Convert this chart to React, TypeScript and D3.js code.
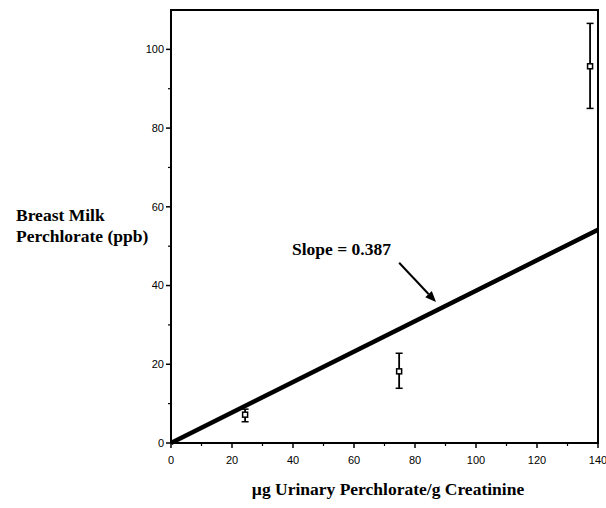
import React from "react";
import * as d3 from "d3";

// Urinary perchlorate (µg/g creatinine) vs. breast milk perchlorate (ppb)
const urinary = [24.3, 74.8, 137.4];
const milk = [7.2, 18.2, 95.7];
const milkLow = [5.4, 13.9, 85.0];
const milkHigh = [8.6, 22.8, 106.6];

const slope = 0.387;
const xTicks = [0, 20, 40, 60, 80, 100, 120, 140];
const yTicks = [0, 20, 40, 60, 80, 100];
const xMinor = [10, 30, 50, 70, 90, 110, 130];
const yMinor = [10, 30, 50, 70, 90];

const W = 606;
const H = 508;
const left = 171;
const right = 598;
const top = 10;
const bottom = 443;

export default function App() {
  const x = d3.scaleLinear().domain([0, 140]).range([left, right]);
  const y = d3.scaleLinear().domain([0, 110]).range([bottom, top]);

  const fit = d3
    .line<number>()
    .x((d) => x(d))
    .y((d) => y(d * slope));

  const serif = "'Liberation Serif', 'Times New Roman', serif";
  const sans = "'Liberation Sans', Arial, sans-serif";

  // arrow from the annotation to the fitted line
  const ax0 = x(74.8), ay0 = y(45.8);
  const ax1 = x(86.9), ay1 = y(35.8);
  const ang = Math.atan2(ay1 - ay0, ax1 - ax0);
  const hl = 11, hw = 4.5;
  const bx = ax1 - hl * Math.cos(ang), by = ay1 - hl * Math.sin(ang);
  const head = [
    [ax1, ay1],
    [bx + hw * Math.sin(ang), by - hw * Math.cos(ang)],
    [bx - hw * Math.sin(ang), by + hw * Math.cos(ang)],
  ];

  return (
    <svg
      width={W}
      height={H}
      style={{ position: "absolute", left: 0, top: 0, background: "#fff" }}
    >
      {/* frame */}
      <path
        d={`M${left},${bottom}V${top}H${right}V${bottom}H${left}`}
        fill="none"
        stroke="#000"
        strokeWidth={2}
      />

      {/* y axis ticks */}
      {yTicks.map((t) => (
        <g key={"y" + t}>
          <line x1={left - 5} x2={left} y1={y(t)} y2={y(t)} stroke="#000" strokeWidth={1.5} />
          <text
            x={left - 7}
            y={y(t)}
            dy="0.35em"
            textAnchor="end"
            fontFamily={sans}
            fontSize={11}
          >
            {t}
          </text>
        </g>
      ))}
      {yMinor.map((t) => (
        <line key={"ym" + t} x1={left - 3} x2={left} y1={y(t)} y2={y(t)} stroke="#000" strokeWidth={1.2} />
      ))}

      {/* x axis ticks */}
      {xTicks.map((t) => (
        <g key={"x" + t}>
          <line x1={x(t)} x2={x(t)} y1={bottom} y2={bottom + 5} stroke="#000" strokeWidth={1.5} />
          <text
            x={x(t)}
            y={bottom + 21}
            textAnchor="middle"
            fontFamily={sans}
            fontSize={11}
          >
            {t}
          </text>
        </g>
      ))}
      {xMinor.map((t) => (
        <line key={"xm" + t} x1={x(t)} x2={x(t)} y1={bottom} y2={bottom + 3} stroke="#000" strokeWidth={1.2} />
      ))}

      {/* regression line */}
      <path d={fit([0, 140]) || ""} fill="none" stroke="#000" strokeWidth={4.5} />

      {/* means with error bars */}
      {urinary.map((u, i) => (
        <g key={"p" + i}>
          <line x1={x(u)} x2={x(u)} y1={y(milkLow[i])} y2={y(milkHigh[i])} stroke="#000" strokeWidth={1.8} />
          <line x1={x(u) - 3.5} x2={x(u) + 3.5} y1={y(milkLow[i])} y2={y(milkLow[i])} stroke="#000" strokeWidth={1.5} />
          <line x1={x(u) - 3.5} x2={x(u) + 3.5} y1={y(milkHigh[i])} y2={y(milkHigh[i])} stroke="#000" strokeWidth={1.5} />
          <rect
            x={x(u) - 2.5}
            y={y(milk[i]) - 2.5}
            width={5}
            height={5}
            fill="#fff"
            stroke="#000"
            strokeWidth={1.5}
          />
        </g>
      ))}

      {/* slope annotation */}
      <text x={292} y={255} fontFamily={serif} fontWeight="bold" fontSize={17.5}>
        Slope = 0.387
      </text>
      <line x1={ax0} y1={ay0} x2={bx} y2={by} stroke="#000" strokeWidth={2} />
      <polygon points={head.map((p) => p.join(",")).join(" ")} fill="#000" />

      {/* axis titles */}
      <text fontFamily={serif} fontWeight="bold" fontSize={17.5}>
        <tspan x={16} y={221}>Breast Milk</tspan>
        <tspan x={16} y={242}>Perchlorate (ppb)</tspan>
      </text>
      <text
        x={388}
        y={495}
        textAnchor="middle"
        fontFamily={serif}
        fontWeight="bold"
        fontSize={17.5}
      >
        µg Urinary Perchlorate/g Creatinine
      </text>
    </svg>
  );
}
